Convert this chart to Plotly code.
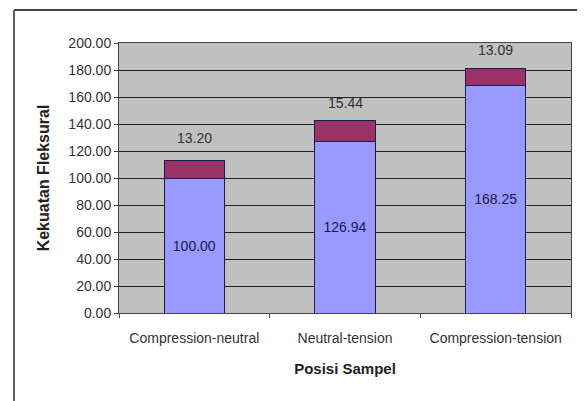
import plotly.graph_objects as go

categories = ["Compression-neutral", "Neutral-tension", "Compression-tension"]
base_values = [100.00, 126.94, 168.25]
top_values = [13.20, 15.44, 13.09]
label_shift = [22, 18, 18]

FONT = "Liberation Sans, Arial, sans-serif"

fig = go.Figure()
fig.add_trace(go.Bar(
    x=categories, y=base_values,
    marker=dict(color="#9999FF", line=dict(color="#1a1a50", width=1)),
    text=[f"{v:.2f}" for v in base_values],
    textposition="inside", insidetextanchor="middle",
    textfont=dict(family=FONT, size=14, color="#1a1a50"),
    showlegend=False,
))
fig.add_trace(go.Bar(
    x=categories, y=top_values,
    marker=dict(color="#993366", line=dict(color="#1a1a50", width=1)),
    showlegend=False,
))

for c, b, t, s in zip(categories, base_values, top_values, label_shift):
    fig.add_annotation(x=c, y=b + t, text=f"{t:.2f}", showarrow=False,
                       yshift=s, font=dict(family=FONT, size=14, color="#333333"))

# outer chart frame (top and left edges visible)
fig.add_shape(type="line", xref="paper", yref="paper", x0=-0.2323, x1=1.1,
              y0=1.1222, y1=1.1222, line=dict(color="#404040", width=2))
fig.add_shape(type="line", xref="paper", yref="paper", x0=-0.2323, x1=-0.2323,
              y0=1.1222, y1=-0.4, line=dict(color="#606060", width=2))

fig.update_layout(
    width=577, height=393,
    barmode="stack", bargap=0.6,
    margin=dict(l=111, r=14, t=35, b=88),
    plot_bgcolor="#C0C0C0", paper_bgcolor="white",
    font=dict(family=FONT, color="#222222"),
    xaxis=dict(
        title=dict(text="<b>Posisi Sampel</b>", font=dict(size=15, color="#222222"), standoff=18),
        tickfont=dict(size=14, color="#333333"), tickangle=0,
        tickson="boundaries", ticks="outside", ticklen=4, tickcolor="#444444",
        ticklabelstandoff=12,
        showline=True, linecolor="#444444", linewidth=1, mirror=True,
        showgrid=False,
    ),
    yaxis=dict(
        title=dict(text="<b>Kekuatan Fleksural</b>", font=dict(size=16, color="#222222"), standoff=14),
        range=[0, 200], dtick=20, tickformat=".2f",
        tickfont=dict(size=14, color="#333333"),
        ticks="outside", ticklen=4, tickcolor="#444444",
        showline=True, linecolor="#444444", linewidth=1, mirror=True,
        showgrid=True, gridcolor="#222222", gridwidth=1,
        zeroline=False,
    ),
)

fig.write_html("out.html")
